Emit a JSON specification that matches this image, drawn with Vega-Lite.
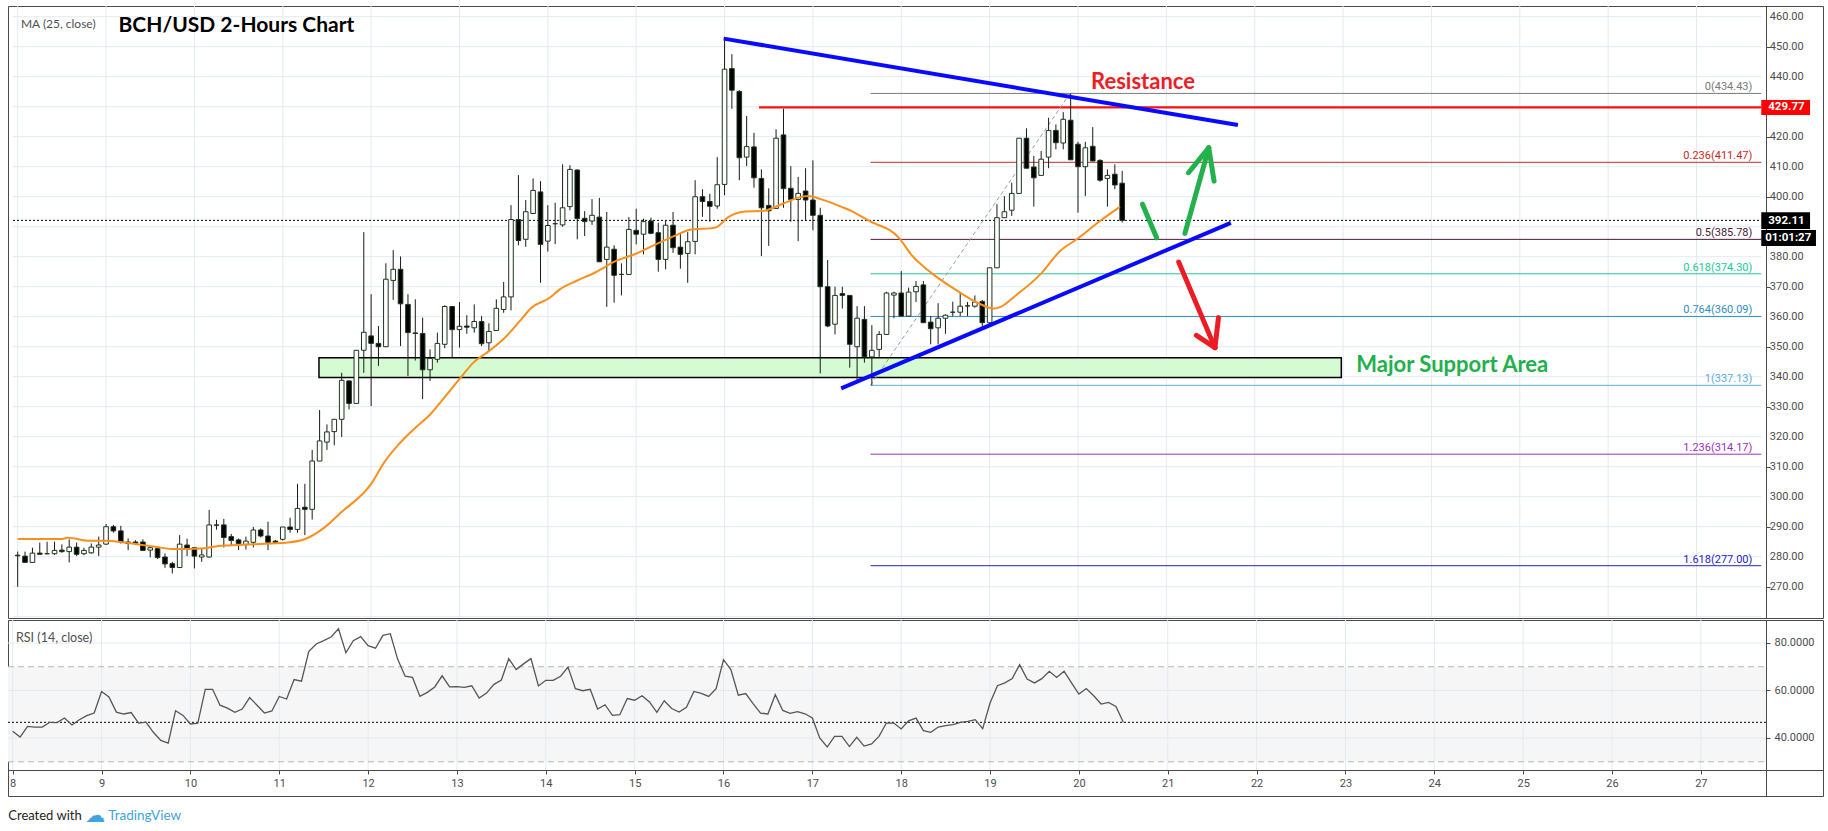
{
  "$schema": "https://vega.github.io/schema/vega-lite/v6.json",
  "padding": {"left": 7, "top": 5, "right": 6, "bottom": 0},
  "spacing": 0,
  "background": "#ffffff",
  "config": {
    "view": {"stroke": "#4a4a4a", "strokeWidth": 1},
    "text": {"font": "Roboto"},
    "axis": {"labelOverlap": false, "labelBound": false, "labelFlush": false},
    "axisY": {"labelOverlap": false},
    "axisRight": {"labelOverlap": false}
  },
  "datasets": {
    "candles": [
      {"t":8,"o":280.5,"h":281.7,"l":270.0,"c":280.3,"r":42.8},
      {"t":8.083,"o":280.2,"h":281.7,"l":278.0,"c":278.1,"r":40.4},
      {"t":8.167,"o":278.1,"h":283.0,"l":278.0,"c":281.2,"r":44.9},
      {"t":8.25,"o":281.2,"h":284.7,"l":280.8,"c":280.8,"r":44.6},
      {"t":8.333,"o":281.0,"h":285.0,"l":280.8,"c":281.0,"r":44.6},
      {"t":8.417,"o":281.0,"h":285.0,"l":280.6,"c":282.1,"r":46.6},
      {"t":8.5,"o":282.2,"h":284.1,"l":281.3,"c":281.7,"r":46.5},
      {"t":8.583,"o":281.7,"h":285.8,"l":278.1,"c":283.2,"r":48.4},
      {"t":8.667,"o":283.2,"h":284.7,"l":280.2,"c":280.8,"r":45.5},
      {"t":8.75,"o":281.0,"h":283.0,"l":280.5,"c":282.1,"r":47.7},
      {"t":8.833,"o":281.3,"h":284.4,"l":281.0,"c":283.2,"r":49.4},
      {"t":8.917,"o":283.2,"h":286.7,"l":280.2,"c":283.9,"r":50.5},
      {"t":9,"o":284.2,"h":290.9,"l":284.0,"c":290.0,"r":59.6},
      {"t":9.083,"o":290.0,"h":290.6,"l":288.0,"c":288.6,"r":57.3},
      {"t":9.167,"o":288.6,"h":290.3,"l":284.4,"c":284.9,"r":50.9},
      {"t":9.25,"o":284.9,"h":286.1,"l":282.2,"c":284.4,"r":50.1},
      {"t":9.333,"o":284.9,"h":285.5,"l":283.9,"c":284.5,"r":50.7},
      {"t":9.417,"o":284.9,"h":285.8,"l":282.0,"c":282.1,"r":46.3},
      {"t":9.5,"o":282.2,"h":283.4,"l":279.8,"c":283.0,"r":46.7},
      {"t":9.583,"o":282.7,"h":283.4,"l":279.2,"c":279.7,"r":42.4},
      {"t":9.667,"o":279.9,"h":281.1,"l":276.3,"c":277.6,"r":39.0},
      {"t":9.75,"o":277.7,"h":278.3,"l":274.4,"c":276.4,"r":37.8},
      {"t":9.833,"o":276.4,"h":287.2,"l":276.2,"c":284.2,"r":51.5},
      {"t":9.917,"o":283.9,"h":286.0,"l":280.2,"c":282.4,"r":49.5},
      {"t":10,"o":283.0,"h":283.0,"l":276.1,"c":280.2,"r":45.9},
      {"t":10.083,"o":279.9,"h":282.8,"l":278.3,"c":280.6,"r":46.2},
      {"t":10.167,"o":279.9,"h":295.6,"l":279.7,"c":290.6,"r":60.5},
      {"t":10.25,"o":290.6,"h":292.3,"l":289.0,"c":290.5,"r":60.5},
      {"t":10.333,"o":290.6,"h":292.6,"l":283.1,"c":286.4,"r":53.8},
      {"t":10.417,"o":286.7,"h":287.6,"l":283.9,"c":285.4,"r":52.6},
      {"t":10.5,"o":285.6,"h":286.1,"l":282.2,"c":284.4,"r":50.8},
      {"t":10.583,"o":284.1,"h":286.7,"l":282.4,"c":285.2,"r":52.2},
      {"t":10.667,"o":284.8,"h":289.9,"l":283.1,"c":288.9,"r":57.0},
      {"t":10.75,"o":288.9,"h":289.4,"l":286.4,"c":286.9,"r":53.8},
      {"t":10.833,"o":286.9,"h":291.7,"l":282.2,"c":284.8,"r":50.5},
      {"t":10.917,"o":285.2,"h":285.6,"l":284.8,"c":284.8,"r":51.4},
      {"t":11,"o":285.8,"h":289.9,"l":285.4,"c":289.9,"r":57.5},
      {"t":11.083,"o":289.9,"h":293.0,"l":288.0,"c":289.1,"r":56.4},
      {"t":11.167,"o":289.1,"h":304.3,"l":288.0,"c":296.1,"r":64.6},
      {"t":11.25,"o":296.5,"h":304.3,"l":287.2,"c":295.8,"r":63.9},
      {"t":11.333,"o":295.8,"h":315.6,"l":292.4,"c":311.9,"r":76.5},
      {"t":11.417,"o":311.9,"h":328.9,"l":311.9,"c":318.6,"r":79.6},
      {"t":11.5,"o":318.2,"h":324.1,"l":315.6,"c":321.6,"r":81.0},
      {"t":11.583,"o":321.7,"h":325.8,"l":317.1,"c":325.8,"r":82.5},
      {"t":11.667,"o":325.8,"h":341.3,"l":319.9,"c":338.8,"r":86.0},
      {"t":11.75,"o":338.6,"h":338.8,"l":329.1,"c":331.1,"r":75.9},
      {"t":11.833,"o":331.1,"h":348.8,"l":331.1,"c":348.8,"r":81.0},
      {"t":11.917,"o":348.8,"h":388.2,"l":341.3,"c":354.8,"r":82.7},
      {"t":12,"o":353.6,"h":367.5,"l":330.2,"c":351.1,"r":78.9},
      {"t":12.083,"o":351.1,"h":356.9,"l":343.6,"c":350.0,"r":77.8},
      {"t":12.167,"o":350.0,"h":377.8,"l":350.0,"c":372.5,"r":83.2},
      {"t":12.25,"o":372.1,"h":382.2,"l":365.6,"c":375.8,"r":83.9},
      {"t":12.333,"o":375.8,"h":380.1,"l":350.2,"c":364.3,"r":73.1},
      {"t":12.417,"o":364.1,"h":367.5,"l":340.2,"c":354.7,"r":66.0},
      {"t":12.5,"o":354.6,"h":365.8,"l":345.4,"c":354.4,"r":65.5},
      {"t":12.583,"o":354.4,"h":359.7,"l":332.5,"c":342.3,"r":57.5},
      {"t":12.667,"o":342.3,"h":349.1,"l":338.6,"c":346.1,"r":59.2},
      {"t":12.75,"o":345.8,"h":354.7,"l":344.7,"c":351.1,"r":61.5},
      {"t":12.833,"o":350.8,"h":363.8,"l":349.5,"c":363.4,"r":66.2},
      {"t":12.917,"o":363.4,"h":363.4,"l":346.3,"c":355.7,"r":61.5},
      {"t":13,"o":355.7,"h":364.9,"l":349.7,"c":356.8,"r":61.6},
      {"t":13.083,"o":356.9,"h":360.5,"l":354.3,"c":356.5,"r":61.3},
      {"t":13.167,"o":356.3,"h":364.1,"l":354.7,"c":358.4,"r":62.0},
      {"t":13.25,"o":358.4,"h":360.2,"l":350.2,"c":351.0,"r":56.8},
      {"t":13.333,"o":351.3,"h":357.8,"l":348.5,"c":355.1,"r":58.9},
      {"t":13.417,"o":355.4,"h":365.8,"l":355.4,"c":362.8,"r":62.6},
      {"t":13.5,"o":362.4,"h":371.6,"l":361.3,"c":366.6,"r":64.4},
      {"t":13.583,"o":366.6,"h":397.2,"l":362.1,"c":392.4,"r":73.4},
      {"t":13.667,"o":392.4,"h":407.2,"l":383.8,"c":385.4,"r":68.8},
      {"t":13.75,"o":385.8,"h":398.9,"l":383.3,"c":395.0,"r":71.2},
      {"t":13.833,"o":394.4,"h":406.1,"l":394.4,"c":402.1,"r":73.4},
      {"t":13.917,"o":401.6,"h":405.2,"l":371.3,"c":384.1,"r":61.9},
      {"t":14,"o":385.2,"h":397.2,"l":381.7,"c":390.4,"r":64.3},
      {"t":14.083,"o":391.0,"h":398.0,"l":384.2,"c":391.0,"r":64.3},
      {"t":14.167,"o":390.6,"h":410.8,"l":390.0,"c":396.3,"r":66.0},
      {"t":14.25,"o":396.7,"h":410.5,"l":395.5,"c":409.1,"r":69.9},
      {"t":14.333,"o":408.9,"h":409.1,"l":385.8,"c":392.7,"r":60.8},
      {"t":14.417,"o":392.8,"h":395.2,"l":386.9,"c":391.7,"r":59.9},
      {"t":14.5,"o":391.9,"h":399.2,"l":390.6,"c":393.8,"r":60.5},
      {"t":14.583,"o":393.2,"h":399.6,"l":378.3,"c":378.3,"r":52.2},
      {"t":14.667,"o":379.1,"h":394.9,"l":363.3,"c":383.2,"r":54.0},
      {"t":14.75,"o":382.5,"h":383.8,"l":364.7,"c":373.8,"r":49.5},
      {"t":14.833,"o":374.1,"h":377.8,"l":367.1,"c":374.1,"r":49.8},
      {"t":14.917,"o":374.1,"h":393.2,"l":374.1,"c":389.1,"r":56.6},
      {"t":15,"o":388.8,"h":396.0,"l":384.1,"c":387.5,"r":55.9},
      {"t":15.083,"o":387.5,"h":392.7,"l":380.8,"c":391.7,"r":57.8},
      {"t":15.167,"o":391.9,"h":393.0,"l":387.5,"c":387.8,"r":55.2},
      {"t":15.25,"o":388.0,"h":391.3,"l":375.0,"c":379.1,"r":50.8},
      {"t":15.333,"o":379.1,"h":391.9,"l":375.8,"c":390.5,"r":55.7},
      {"t":15.417,"o":390.5,"h":394.9,"l":381.3,"c":383.0,"r":52.4},
      {"t":15.5,"o":383.2,"h":388.0,"l":376.0,"c":380.8,"r":50.9},
      {"t":15.583,"o":381.1,"h":388.2,"l":371.3,"c":385.0,"r":52.9},
      {"t":15.667,"o":385.1,"h":405.5,"l":380.8,"c":400.0,"r":59.6},
      {"t":15.75,"o":400.0,"h":402.5,"l":393.3,"c":398.4,"r":58.8},
      {"t":15.833,"o":398.4,"h":401.0,"l":391.7,"c":396.8,"r":57.5},
      {"t":15.917,"o":396.9,"h":413.2,"l":396.0,"c":404.0,"r":60.8},
      {"t":16,"o":404.1,"h":452.7,"l":400.5,"c":442.5,"r":73.0},
      {"t":16.083,"o":442.7,"h":447.5,"l":429.3,"c":435.5,"r":68.8},
      {"t":16.167,"o":435.1,"h":435.5,"l":405.5,"c":413.0,"r":58.0},
      {"t":16.25,"o":413.2,"h":426.9,"l":410.2,"c":416.7,"r":58.7},
      {"t":16.333,"o":416.6,"h":421.3,"l":403.0,"c":406.3,"r":54.5},
      {"t":16.417,"o":406.1,"h":409.1,"l":380.2,"c":396.3,"r":50.5},
      {"t":16.5,"o":397.1,"h":402.8,"l":383.6,"c":395.3,"r":50.1},
      {"t":16.583,"o":396.1,"h":422.5,"l":396.1,"c":419.5,"r":58.2},
      {"t":16.667,"o":420.6,"h":429.3,"l":396.3,"c":402.7,"r":51.6},
      {"t":16.75,"o":402.8,"h":410.2,"l":391.7,"c":399.1,"r":50.4},
      {"t":16.833,"o":399.1,"h":406.6,"l":385.2,"c":401.1,"r":51.1},
      {"t":16.917,"o":401.9,"h":409.5,"l":392.1,"c":398.9,"r":50.2},
      {"t":17,"o":398.9,"h":412.1,"l":388.8,"c":393.8,"r":48.4},
      {"t":17.083,"o":393.8,"h":396.3,"l":341.1,"c":370.0,"r":40.0},
      {"t":17.167,"o":370.0,"h":378.9,"l":356.5,"c":356.9,"r":36.2},
      {"t":17.25,"o":357.5,"h":370.0,"l":354.1,"c":367.1,"r":40.7},
      {"t":17.333,"o":367.7,"h":370.0,"l":362.7,"c":367.1,"r":40.7},
      {"t":17.417,"o":367.1,"h":367.1,"l":343.0,"c":350.8,"r":36.4},
      {"t":17.5,"o":350.0,"h":363.5,"l":338.9,"c":359.5,"r":40.3},
      {"t":17.583,"o":359.1,"h":363.5,"l":344.7,"c":346.6,"r":36.6},
      {"t":17.667,"o":346.6,"h":357.2,"l":337.1,"c":348.8,"r":37.5},
      {"t":17.75,"o":349.1,"h":355.2,"l":346.6,"c":354.1,"r":40.7},
      {"t":17.833,"o":354.1,"h":368.3,"l":354.1,"c":367.9,"r":46.3},
      {"t":17.917,"o":367.2,"h":368.3,"l":359.5,"c":367.9,"r":46.3},
      {"t":18,"o":367.9,"h":375.2,"l":360.2,"c":360.2,"r":43.8},
      {"t":18.083,"o":360.2,"h":369.7,"l":360.2,"c":368.2,"r":47.2},
      {"t":18.167,"o":368.3,"h":371.9,"l":364.9,"c":370.1,"r":48.4},
      {"t":18.25,"o":370.6,"h":371.9,"l":358.0,"c":358.0,"r":43.1},
      {"t":18.333,"o":358.2,"h":360.2,"l":350.8,"c":356.0,"r":42.4},
      {"t":18.417,"o":356.3,"h":364.5,"l":350.8,"c":359.5,"r":44.6},
      {"t":18.5,"o":359.5,"h":360.8,"l":354.3,"c":360.5,"r":45.2},
      {"t":18.583,"o":361.5,"h":365.0,"l":360.2,"c":361.5,"r":45.6},
      {"t":18.667,"o":361.5,"h":368.2,"l":360.2,"c":363.5,"r":46.6},
      {"t":18.75,"o":363.6,"h":364.9,"l":360.2,"c":363.6,"r":47.0},
      {"t":18.833,"o":363.5,"h":367.1,"l":363.0,"c":364.9,"r":47.7},
      {"t":18.917,"o":365.1,"h":365.6,"l":356.3,"c":358.0,"r":43.9},
      {"t":19,"o":358.0,"h":376.3,"l":357.5,"c":376.3,"r":54.7},
      {"t":19.083,"o":376.3,"h":397.5,"l":376.3,"c":393.0,"r":62.0},
      {"t":19.167,"o":393.0,"h":400.2,"l":393.0,"c":395.0,"r":63.2},
      {"t":19.25,"o":395.5,"h":404.7,"l":393.6,"c":401.1,"r":65.0},
      {"t":19.333,"o":401.1,"h":419.5,"l":401.1,"c":419.5,"r":70.9},
      {"t":19.417,"o":419.5,"h":422.8,"l":409.5,"c":409.5,"r":64.8},
      {"t":19.5,"o":409.9,"h":413.6,"l":396.7,"c":406.3,"r":63.2},
      {"t":19.583,"o":407.1,"h":415.2,"l":407.1,"c":412.5,"r":65.0},
      {"t":19.667,"o":413.2,"h":426.3,"l":409.5,"c":422.1,"r":68.1},
      {"t":19.75,"o":422.1,"h":424.1,"l":415.8,"c":418.0,"r":65.5},
      {"t":19.833,"o":417.9,"h":428.2,"l":415.8,"c":425.8,"r":68.1},
      {"t":19.917,"o":425.5,"h":434.4,"l":412.3,"c":412.3,"r":63.2},
      {"t":20,"o":417.5,"h":418.3,"l":394.7,"c":410.0,"r":58.5},
      {"t":20.083,"o":410.0,"h":418.3,"l":400.2,"c":416.3,"r":60.8},
      {"t":20.167,"o":416.8,"h":423.2,"l":411.9,"c":411.9,"r":57.8},
      {"t":20.25,"o":412.1,"h":412.5,"l":405.0,"c":405.5,"r":54.3},
      {"t":20.333,"o":406.1,"h":409.1,"l":396.7,"c":407.1,"r":55.0},
      {"t":20.417,"o":407.5,"h":410.8,"l":402.5,"c":403.9,"r":53.3},
      {"t":20.5,"o":404.5,"h":408.6,"l":391.4,"c":392.1,"r":46.6}
    ],
    "ma": [
      {"t":8.0,"v":285.9},{"t":8.487,"v":285.9},{"t":8.57,"v":286.3},{"t":8.806,"v":285.3},
      {"t":8.994,"v":285.3},{"t":9.18,"v":284.8},{"t":9.369,"v":284.1},{"t":9.557,"v":283.3},
      {"t":9.745,"v":282.6},{"t":9.894,"v":282.6},{"t":10.12,"v":282.8},{"t":10.269,"v":283.6},
      {"t":10.494,"v":283.9},{"t":10.87,"v":284.4},{"t":11.057,"v":284.7},{"t":11.245,"v":285.8},
      {"t":11.47,"v":289.7},{"t":11.658,"v":294.7},{"t":11.996,"v":304.1},{"t":12.145,"v":311.3},
      {"t":12.314,"v":317.5},{"t":12.483,"v":322.5},{"t":12.671,"v":327.5},{"t":12.858,"v":334.1},
      {"t":13.027,"v":340.2},{"t":13.158,"v":344.7},{"t":13.308,"v":348.0},{"t":13.496,"v":352.5},
      {"t":13.684,"v":358.6},{"t":13.815,"v":363.0},{"t":14.021,"v":366.3},{"t":14.134,"v":369.1},
      {"t":14.321,"v":371.9},{"t":14.546,"v":374.9},{"t":14.771,"v":378.6},{"t":14.996,"v":381.0},
      {"t":15.184,"v":383.6},{"t":15.446,"v":387.1},{"t":15.597,"v":388.9},{"t":15.896,"v":389.7},
      {"t":16.047,"v":393.3},{"t":16.234,"v":395.1},{"t":16.422,"v":395.2},{"t":16.647,"v":397.5},
      {"t":16.835,"v":399.7},{"t":16.948,"v":400.2},{"t":17.097,"v":399.1},{"t":17.325,"v":396.6},
      {"t":17.437,"v":395.2},{"t":17.625,"v":392.1},{"t":17.979,"v":386.1},{"t":18.11,"v":380.8},
      {"t":18.336,"v":374.7},{"t":18.636,"v":368.6},{"t":18.861,"v":364.7},{"t":19.048,"v":362.7},
      {"t":19.348,"v":368.3},{"t":19.573,"v":374.1},{"t":19.798,"v":381.9},{"t":19.986,"v":385.8},
      {"t":20.249,"v":391.9},{"t":20.474,"v":396.6}
    ],
    "days": [
      {"d":8},{"d":9},{"d":10},{"d":11},{"d":12},{"d":13},{"d":14},{"d":15},{"d":16},{"d":17},
      {"d":18},{"d":19},{"d":20},{"d":21},{"d":22},{"d":23},{"d":24},{"d":25},{"d":26},{"d":27}
    ],
    "pricegrid": [
      {"g":260},{"g":270},{"g":280},{"g":290},{"g":300},{"g":310},{"g":320},{"g":330},{"g":340},{"g":350},
      {"g":360},{"g":370},{"g":380},{"g":390},{"g":400},{"g":410},{"g":420},{"g":430},{"g":440},{"g":450},{"g":460}
    ],
    "pricelabels": [
      {"g":270,"s":"270.00"},{"g":280,"s":"280.00"},{"g":290,"s":"290.00"},{"g":300,"s":"300.00"},
      {"g":310,"s":"310.00"},{"g":320,"s":"320.00"},{"g":330,"s":"330.00"},{"g":340,"s":"340.00"},
      {"g":350,"s":"350.00"},{"g":360,"s":"360.00"},{"g":370,"s":"370.00"},{"g":380,"s":"380.00"},
      {"g":400,"s":"400.00"},{"g":410,"s":"410.00"},{"g":420,"s":"420.00"},{"g":440,"s":"440.00"},
      {"g":450,"s":"450.00"},{"g":460,"s":"460.00"}
    ],
    "fib": [
      {"p":434.43,"s":"0(434.43)","k":"0"},
      {"p":411.47,"s":"0.236(411.47)","k":"0.236"},
      {"p":385.78,"s":"0.5(385.78)","k":"0.5"},
      {"p":374.30,"s":"0.618(374.30)","k":"0.618"},
      {"p":360.09,"s":"0.764(360.09)","k":"0.764"},
      {"p":337.13,"s":"1(337.13)","k":"1"},
      {"p":314.17,"s":"1.236(314.17)","k":"1.236"},
      {"p":277.00,"s":"1.618(277.00)","k":"1.618"}
    ],
    "blue": [
      {"a":15.99,"b":452.7,"a2":21.81,"b2":423.9},
      {"a":17.32,"b":336.1,"a2":21.73,"b2":391.3}
    ],
    "green": [
      {"a":20.73,"b":397.5,"a2":20.89,"b2":386.3},
      {"a":21.21,"b":387.8,"a2":21.48,"b2":416.3},
      {"a":21.48,"b":416.3,"a2":21.25,"b2":408.0},
      {"a":21.48,"b":416.3,"a2":21.54,"b2":405.2}
    ],
    "red": [
      {"a":21.14,"b":378.2,"a2":21.55,"b2":349.7},
      {"a":21.55,"b":349.7,"a2":21.34,"b2":353.8},
      {"a":21.55,"b":349.7,"a2":21.59,"b2":359.7}
    ]
  },
  "vconcat": [
    {
      "width": 1815,
      "height": 612,
      "layer": [
        {
          "data": {"name": "days"},
          "mark": {"type": "rule", "color": "#e3ebf1", "strokeWidth": 1},
          "encoding": {
            "x": {"field": "d", "type": "quantitative", "scale": {"domain": [7.947, 28.375], "nice": false, "zero": false}, "axis": null}
          }
        },
        {
          "data": {"name": "pricegrid"},
          "mark": {"type": "rule", "color": "#e3ebf1", "strokeWidth": 1},
          "encoding": {
            "y": {
              "field": "g", "type": "quantitative", "title": null,
              "scale": {"domain": [259.57, 463.57], "nice": false, "zero": false},
              "axis": {
                "orient": "right", "offset": -57, "title": null, "grid": false, "labels": false,
                "values": [270, 280, 290, 300, 310, 320, 330, 340, 350, 360, 370, 380, 400, 410, 420, 440, 450, 460],
                "domainColor": "#4a4a4a", "tickColor": "#4a4a4a", "tickSize": 4
              }
            },
            "x": {"datum": 7.947, "type": "quantitative", "scale": {"domain": [7.947, 28.375], "nice": false, "zero": false}, "axis": null},
            "x2": {"datum": 27.733}
          }
        },
        {
          "data": {"name": "pricelabels"},
          "mark": {"type": "text", "align": "left", "baseline": "middle", "font": "Roboto", "fontSize": 11, "color": "#4d4d4d"},
          "encoding": {
            "y": {"field": "g", "type": "quantitative", "title": null},
            "x": {"datum": 27.83, "type": "quantitative", "axis": null},
            "text": {"field": "s"}
          }
        },
        {
          "data": {"values": [{}]},
          "mark": {"type": "rect", "fill": "#d5fbd3", "stroke": "#000000", "strokeWidth": 1.5},
          "encoding": {
            "x": {"datum": 11.41, "type": "quantitative", "axis": null},
            "x2": {"datum": 22.98},
            "y": {"datum": 339.7, "type": "quantitative", "title": null},
            "y2": {"datum": 346.3}
          }
        },
        {
          "data": {"name": "fib"},
          "mark": {"type": "rule", "strokeWidth": 1},
          "encoding": {
            "y": {"field": "p", "type": "quantitative", "title": null},
            "x": {"datum": 17.652, "type": "quantitative", "axis": null},
            "x2": {"datum": 27.733},
            "color": {
              "field": "k", "type": "nominal", "legend": null,
              "scale": {
                "domain": ["0", "0.236", "0.5", "0.618", "0.764", "1", "1.236", "1.618"],
                "range": ["#7a7a7a", "#c62828", "#4a1a35", "#22c79a", "#2f8ec4", "#5aaee0", "#9b30c0", "#2424c8"]
              }
            }
          }
        },
        {
          "data": {"name": "fib"},
          "mark": {"type": "text", "align": "right", "baseline": "bottom", "dy": -1, "font": "Roboto", "fontSize": 11},
          "encoding": {
            "y": {"field": "p", "type": "quantitative", "title": null},
            "x": {"datum": 27.632, "type": "quantitative", "axis": null},
            "text": {"field": "s"},
            "color": {"field": "k", "type": "nominal", "legend": null}
          }
        },
        {
          "data": {"values": [{}]},
          "mark": {"type": "rule", "color": "#ff1010", "strokeWidth": 2.2},
          "encoding": {
            "x": {"datum": 16.39, "type": "quantitative", "axis": null},
            "x2": {"datum": 27.733},
            "y": {"datum": 429.77, "type": "quantitative", "title": null}
          }
        },
        {
          "data": {"values": [{}]},
          "mark": {"type": "rule", "color": "#000000", "strokeWidth": 1, "strokeDash": [2, 2]},
          "encoding": {
            "x": {"datum": 7.947, "type": "quantitative", "axis": null},
            "x2": {"datum": 27.733},
            "y": {"datum": 392.11, "type": "quantitative", "title": null}
          }
        },
        {
          "data": {"values": [{}]},
          "mark": {"type": "rule", "color": "#9e9e9e", "strokeWidth": 1, "strokeDash": [4, 3]},
          "encoding": {
            "x": {"datum": 17.652, "type": "quantitative", "axis": null},
            "x2": {"datum": 19.91},
            "y": {"datum": 337.13, "type": "quantitative", "title": null},
            "y2": {"datum": 434.43}
          }
        },
        {
          "data": {"name": "candles"},
          "mark": {"type": "rule", "color": "#1a1a1a", "strokeWidth": 1},
          "encoding": {
            "x": {"field": "t", "type": "quantitative", "axis": null},
            "y": {"field": "l", "type": "quantitative", "title": null},
            "y2": {"field": "h"}
          }
        },
        {
          "data": {"name": "candles"},
          "mark": {"type": "bar", "width": 4.6, "stroke": "#1d361d", "strokeWidth": 1},
          "encoding": {
            "x": {"field": "t", "type": "quantitative", "axis": null},
            "y": {"field": "o", "type": "quantitative", "title": null},
            "y2": {"field": "c"},
            "fill": {"condition": {"test": "datum.c >= datum.o", "value": "#ffffff"}, "value": "#000000"}
          }
        },
        {
          "data": {"name": "ma"},
          "mark": {"type": "line", "color": "#f7901e", "strokeWidth": 2, "interpolate": "monotone"},
          "encoding": {
            "x": {"field": "t", "type": "quantitative", "axis": null},
            "y": {"field": "v", "type": "quantitative", "title": null}
          }
        },
        {
          "data": {"name": "blue"},
          "mark": {"type": "rule", "color": "#0a0aff", "strokeWidth": 4},
          "encoding": {
            "x": {"field": "a", "type": "quantitative", "axis": null},
            "y": {"field": "b", "type": "quantitative", "title": null},
            "x2": {"field": "a2"},
            "y2": {"field": "b2"}
          }
        },
        {
          "data": {"name": "green"},
          "mark": {"type": "rule", "color": "#22b14c", "strokeWidth": 5, "strokeCap": "round"},
          "encoding": {
            "x": {"field": "a", "type": "quantitative", "axis": null},
            "y": {"field": "b", "type": "quantitative", "title": null},
            "x2": {"field": "a2"},
            "y2": {"field": "b2"}
          }
        },
        {
          "data": {"name": "red"},
          "mark": {"type": "rule", "color": "#ed1c24", "strokeWidth": 5, "strokeCap": "round"},
          "encoding": {
            "x": {"field": "a", "type": "quantitative", "axis": null},
            "y": {"field": "b", "type": "quantitative", "title": null},
            "x2": {"field": "a2"},
            "y2": {"field": "b2"}
          }
        },
        {
          "data": {"values": [{"t": 8.037, "p": 457.6, "s": "MA (25, close)"}]},
          "mark": {"type": "text", "align": "left", "baseline": "middle", "font": "Lato", "fontSize": 12, "color": "#505050"},
          "encoding": {
            "x": {"field": "t", "type": "quantitative", "axis": null},
            "y": {"field": "p", "type": "quantitative", "title": null},
            "text": {"field": "s"}
          }
        },
        {
          "data": {"values": [{"t": 9.141, "p": 456.9, "s": "BCH/USD 2-Hours Chart"}]},
          "mark": {"type": "text", "align": "left", "baseline": "middle", "font": "Lato", "fontSize": 21, "fontWeight": "bold", "color": "#000000"},
          "encoding": {
            "x": {"field": "t", "type": "quantitative", "axis": null},
            "y": {"field": "p", "type": "quantitative", "title": null},
            "text": {"field": "s"}
          }
        },
        {
          "data": {"values": [{"t": 20.147, "p": 438.4, "s": "Resistance"}]},
          "mark": {"type": "text", "align": "left", "baseline": "middle", "font": "Lato", "fontSize": 22, "fontWeight": "bold", "color": "#ee1c25"},
          "encoding": {
            "x": {"field": "t", "type": "quantitative", "axis": null},
            "y": {"field": "p", "type": "quantitative", "title": null},
            "text": {"field": "s"}
          }
        },
        {
          "data": {"values": [{"t": 23.15, "p": 343.9, "s": "Major Support Area"}]},
          "mark": {"type": "text", "align": "left", "baseline": "middle", "font": "Lato", "fontSize": 22, "fontWeight": "bold", "color": "#21b04b"},
          "encoding": {
            "x": {"field": "t", "type": "quantitative", "axis": null},
            "y": {"field": "p", "type": "quantitative", "title": null},
            "text": {"field": "s"}
          }
        },
        {
          "data": {"values": [{}]},
          "mark": {"type": "rect", "fill": "#ff0000"},
          "encoding": {
            "x": {"datum": 27.733, "type": "quantitative", "axis": null},
            "x2": {"datum": 28.285},
            "y": {"datum": 427.27, "type": "quantitative", "title": null},
            "y2": {"datum": 432.27}
          }
        },
        {
          "data": {"values": [{}]},
          "mark": {"type": "rect", "fill": "#000000"},
          "encoding": {
            "x": {"datum": 27.733, "type": "quantitative", "axis": null},
            "x2": {"datum": 28.285},
            "y": {"datum": 389.2, "type": "quantitative", "title": null},
            "y2": {"datum": 394.8}
          }
        },
        {
          "data": {"values": [{}]},
          "mark": {"type": "rect", "fill": "#000000"},
          "encoding": {
            "x": {"datum": 27.733, "type": "quantitative", "axis": null},
            "x2": {"datum": 28.352},
            "y": {"datum": 383.6, "type": "quantitative", "title": null},
            "y2": {"datum": 388.9}
          }
        },
        {
          "data": {"values": [
            {"t": 27.812, "p": 429.77, "s": "429.77"},
            {"t": 27.812, "p": 392.0, "s": "392.11"},
            {"t": 27.778, "p": 386.25, "s": "01:01:27"}
          ]},
          "mark": {"type": "text", "align": "left", "baseline": "middle", "font": "Roboto", "fontSize": 11.5, "fontWeight": "bold", "color": "#ffffff"},
          "encoding": {
            "x": {"field": "t", "type": "quantitative", "axis": null},
            "y": {"field": "p", "type": "quantitative", "title": null},
            "text": {"field": "s"}
          }
        }
      ]
    },
    {
      "width": 1815,
      "height": 176,
      "layer": [
        {
          "data": {"values": [{}]},
          "mark": {"type": "rect", "fill": "#f6f6f6"},
          "encoding": {
            "x": {"datum": 7.947, "type": "quantitative", "scale": {"domain": [7.947, 28.375], "nice": false, "zero": false}},
            "x2": {"datum": 27.733},
            "y": {"datum": 30, "type": "quantitative", "scale": {"domain": [15.58, 89.68], "nice": false, "zero": false}},
            "y2": {"datum": 70}
          }
        },
        {
          "data": {"name": "days"},
          "mark": {"type": "rule", "color": "#e3ebf1", "strokeWidth": 1},
          "encoding": {
            "x": {
              "field": "d", "type": "quantitative", "title": null,
              "axis": {
                "orient": "bottom", "offset": -26, "title": null, "grid": false, "labelOverlap": false,
                "values": [8, 9, 10, 11, 12, 13, 14, 15, 16, 17, 18, 19, 20, 21, 22, 23, 24, 25, 26, 27],
                "format": "d", "domainColor": "#4a4a4a", "tickColor": "#4a4a4a", "tickSize": 4,
                "labelPadding": 3, "labelFont": "Roboto", "labelFontSize": 11, "labelColor": "#4d4d4d", "labelFlush": false
              }
            },
            "y": {"datum": 26.53, "type": "quantitative"},
            "y2": {"datum": 89.68}
          }
        },
        {
          "data": {"values": [{"g": 40}, {"g": 60}, {"g": 80}]},
          "mark": {"type": "rule", "color": "#e3ebf1", "strokeWidth": 1},
          "encoding": {
            "y": {
              "field": "g", "type": "quantitative", "title": null,
              "axis": {
                "orient": "right", "offset": -57, "title": null, "grid": false, "labelOverlap": false,
                "values": [40, 60, 80], "format": ".4f",
                "domainColor": "#4a4a4a", "tickColor": "#4a4a4a", "tickSize": 4,
                "labelPadding": 4, "labelFont": "Roboto", "labelFontSize": 11, "labelColor": "#4d4d4d"
              }
            },
            "x": {"datum": 7.947, "type": "quantitative"},
            "x2": {"datum": 27.733}
          }
        },
        {
          "data": {"values": [{"g": 30}, {"g": 70}]},
          "mark": {"type": "rule", "color": "#b8b8b8", "strokeWidth": 1, "strokeDash": [6, 4]},
          "encoding": {
            "y": {"field": "g", "type": "quantitative", "title": null},
            "x": {"datum": 7.947, "type": "quantitative"},
            "x2": {"datum": 27.733}
          }
        },
        {
          "data": {"values": [{"g": 46.6}]},
          "mark": {"type": "rule", "color": "#000000", "strokeWidth": 1, "strokeDash": [2, 2]},
          "encoding": {
            "y": {"field": "g", "type": "quantitative", "title": null},
            "x": {"datum": 7.947, "type": "quantitative"},
            "x2": {"datum": 27.733}
          }
        },
        {
          "data": {"name": "candles"},
          "mark": {"type": "line", "color": "#555555", "strokeWidth": 1.3},
          "encoding": {
            "x": {"field": "t", "type": "quantitative", "title": null},
            "y": {"field": "r", "type": "quantitative", "title": null}
          }
        },
        {
          "data": {"values": [{"t": 8.037, "p": 82.1, "s": "RSI (14, close)"}]},
          "mark": {"type": "text", "align": "left", "baseline": "middle", "font": "Lato", "fontSize": 12.5, "color": "#505050"},
          "encoding": {
            "x": {"field": "t", "type": "quantitative", "title": null},
            "y": {"field": "p", "type": "quantitative", "title": null},
            "text": {"field": "s"}
          }
        }
      ]
    },
    {
      "width": 1815,
      "height": 38,
      "view": {"stroke": null},
      "layer": [
        {
          "data": {"values": [{"t": 7.95, "s": "Created with"}]},
          "mark": {"type": "text", "align": "left", "baseline": "middle", "font": "Lato", "fontSize": 13, "color": "#222222"},
          "encoding": {
            "x": {"field": "t", "type": "quantitative", "scale": {"domain": [7.947, 28.375], "nice": false, "zero": false}, "axis": null},
            "y": {"datum": 0.5, "type": "quantitative", "scale": {"domain": [0, 1]}, "axis": null},
            "text": {"field": "s"}
          }
        },
        {
          "data": {"values": [{"t": 8.93, "s": "☁"}]},
          "mark": {"type": "text", "align": "center", "baseline": "middle", "font": "DejaVu Sans", "fontSize": 20, "color": "#42a3dc"},
          "encoding": {
            "x": {"field": "t", "type": "quantitative", "axis": null},
            "y": {"datum": 0.5, "type": "quantitative", "axis": null},
            "text": {"field": "s"}
          }
        },
        {
          "data": {"values": [{"t": 9.075, "s": "TradingView"}]},
          "mark": {"type": "text", "align": "left", "baseline": "middle", "font": "Lato", "fontSize": 13.5, "color": "#42a3dc"},
          "encoding": {
            "x": {"field": "t", "type": "quantitative", "axis": null},
            "y": {"datum": 0.5, "type": "quantitative", "axis": null},
            "text": {"field": "s"}
          }
        }
      ]
    }
  ]
}
